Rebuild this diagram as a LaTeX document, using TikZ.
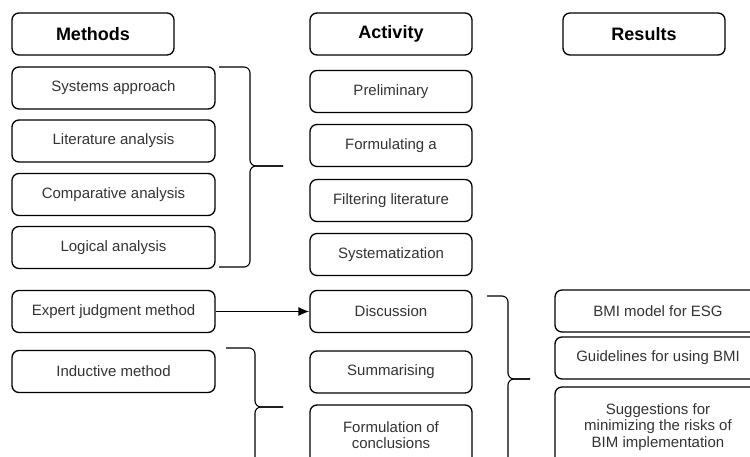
\documentclass[tikz,border=0pt]{standalone}
\usepackage{fontspec}
\setmainfont{Liberation Sans}
\usetikzlibrary{arrows.meta}

\begin{document}
\begin{tikzpicture}[x=1pt,y=-1pt,>={Latex[length=11pt,width=9pt]},line width=1.3pt,
  head/.style={draw,rounded corners=7pt,minimum width=162pt,minimum height=42pt,inner sep=0pt,font=\fontsize{18}{20}\selectfont\bfseries},
  method/.style={draw,rounded corners=7pt,minimum width=203pt,minimum height=42pt,inner sep=0pt,align=center,text=black!80,font=\fontsize{15}{16.5}\selectfont},
  activity/.style={method,minimum width=162pt},
  result/.style={method,minimum width=206pt},
  brace/.style={line width=1.1pt,rounded corners=6pt}]

\clip (0,0) rectangle (750,457);

% column headers
\node[head] (methods)  at (93,34)  {Methods};
\node[head] (activity) at (391,34) {Activity};
\node[head] (results)  at (644,34) {Results};

% methods
\node[method] (sys)    at (113.5,88) {Systems approach};
\node[method] (lit)    at (113.5,141) {Literature analysis};
\node[method] (comp)   at (113.5,194.5) {Comparative analysis};
\node[method] (logic)  at (113.5,247.5) {Logical analysis};
\node[method] (expert) at (113.5,311.5) {Expert judgment method};
\node[method] (induct) at (113.5,371.5) {Inductive method};

% activities
\node[activity] (prelim) at (391,91.5)  {Preliminary};
\node[activity] (formul) at (391,145.5) {Formulating a};
\node[activity] (filter) at (391,200.5) {Filtering literature};
\node[activity] (syst)   at (391,254.5) {Systematization};
\node[activity] (disc)   at (391,311.5) {Discussion};
\node[activity] (summ)   at (391,372) {Summarising};
\node[activity,minimum height=60pt] (concl) at (391,435) {Formulation of\\conclusions};

% results
\node[result] (bmi)   at (658,311) {BMI model for ESG};
\node[result] (guide) at (658,358) {Guidelines for using BMI};
\node[result,minimum height=80pt] (sugg) at (658,427) {Suggestions for\\minimizing the risks of\\BIM implementation};

\path[->] (expert) edge (disc);

% braces
\draw[brace] (219,67) -- (250,67) -- (250,166) -- (283,166);
\draw[brace] (283,166) -- (250,166) -- (250,267) -- (219,267);
\draw[brace] (487,296) -- (508,296) -- (508,379) -- (530,379);
\draw[brace] (530,379) -- (508,379) -- (508,475);
\draw[brace] (226,348) -- (255,348) -- (255,407) -- (283,407);
\draw[brace] (283,407) -- (255,407) -- (255,475);

\end{tikzpicture}
\end{document}
